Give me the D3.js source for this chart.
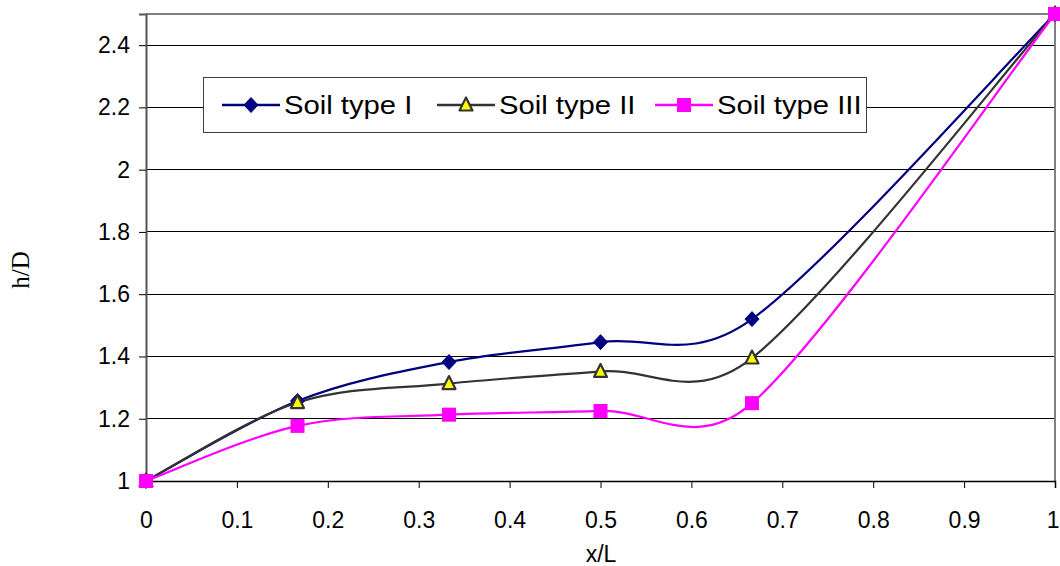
<!DOCTYPE html>
<html><head><meta charset="utf-8">
<script src="https://cdn.jsdelivr.net/npm/d3@7"></script>
<style>
html,body{margin:0;padding:0;background:#fff;}
svg{display:block;}
</style></head>
<body>
<svg id="chart" width="1060" height="566"></svg>
<script>
const xValues = [0, 1/6, 1/3, 1/2, 2/3, 1];
const soilI   = [1, 1.257, 1.382, 1.446, 1.52, 2.5];
const soilII  = [1, 1.252, 1.313, 1.352, 1.395, 2.5];
const soilIII = [1, 1.177, 1.213, 1.225, 1.25, 2.5];
const seriesNames = ["Soil type I", "Soil type II", "Soil type III"];
const xTicks = [0, 0.1, 0.2, 0.3, 0.4, 0.5, 0.6, 0.7, 0.8, 0.9, 1];
const yTicks = [1, 1.2, 1.4, 1.6, 1.8, 2, 2.2, 2.4];
const xTitle = "x/L";
const yTitle = "h/D";

const svg = d3.select("#chart");
const L = 146, R = 1055, T = 14, B = 481;
const x = d3.scaleLinear().domain([0, 1]).range([L, R]);
const y = d3.scaleLinear().domain([1, 2.5]).range([B, T]);

const series = [
  {name: seriesNames[0], vals: soilI, color: "#000080", marker: "diamond"},
  {name: seriesNames[1], vals: soilII, color: "#333333", marker: "triangle"},
  {name: seriesNames[2], vals: soilIII, color: "#ff00ff", marker: "square"}
];

// gridlines
svg.append("g").selectAll("line").data(yTicks.filter(d => d > 1)).join("line")
  .attr("x1", L).attr("x2", R).attr("y1", d => y(d)).attr("y2", d => y(d))
  .attr("stroke", "#000").attr("stroke-width", 1).attr("shape-rendering", "crispEdges");

// frame (top/right gray)
svg.append("line").attr("x1", L).attr("x2", R + 1).attr("y1", T).attr("y2", T)
  .attr("stroke", "#808080").attr("stroke-width", 2);
svg.append("line").attr("x1", R).attr("x2", R).attr("y1", T).attr("y2", B)
  .attr("stroke", "#808080").attr("stroke-width", 2);

// axes
const fontSans = "'Liberation Sans', Arial, sans-serif";
const xAxis = d3.axisBottom(x).tickValues(xTicks).tickSize(7).tickPadding(24)
  .tickFormat(d => d3.format("")(+d.toFixed(1)));
const gx = svg.append("g").attr("transform", `translate(0,${B})`).call(xAxis);
gx.select(".domain").attr("stroke", "#000").attr("stroke-width", 1.5);
gx.selectAll(".tick line").attr("stroke", "#000");
gx.selectAll("text").attr("font-family", fontSans).attr("font-size", 23).attr("fill", "#000");
gx.selectAll(".tick text").filter(d => d === 1).attr("text-anchor", "end").attr("dx", 4);

const yAxis = d3.axisLeft(y).tickValues(yTicks).tickSize(7).tickPadding(9)
  .tickFormat(d => d3.format("")(+d.toFixed(1)));
const gy = svg.append("g").attr("transform", `translate(${L},0)`).call(yAxis);
gy.select(".domain").attr("stroke", "#555").attr("stroke-width", 2);
gy.selectAll(".tick line").attr("stroke", "#000");
gy.selectAll("text").attr("font-family", fontSans).attr("font-size", 23).attr("fill", "#000");

// axis titles
svg.append("text").text(xTitle).attr("x", 601).attr("y", 562).attr("text-anchor", "middle")
  .attr("font-family", fontSans).attr("font-size", 23);
svg.append("text").text(yTitle).attr("transform", "translate(29,270) rotate(-90)")
  .attr("text-anchor", "middle").attr("font-family", "'Liberation Serif', 'Times New Roman', serif")
  .attr("font-size", 25);

// Excel-style smoothed line: Bezier with tangent (P[i+1]-P[i-1])/6,
// each control offset limited to half the segment length.
function smoothPath(pts) {
  const p = d3.path();
  const n = pts.length;
  const lim = (vx, vy, maxLen) => {
    const len = Math.hypot(vx, vy);
    if (len > maxLen && len > 0) { const k = maxLen / len; return [vx * k, vy * k]; }
    return [vx, vy];
  };
  p.moveTo(pts[0][0], pts[0][1]);
  for (let i = 0; i < n - 1; i++) {
    const p0 = pts[Math.max(i - 1, 0)], p1 = pts[i], p2 = pts[i + 1], p3 = pts[Math.min(i + 2, n - 1)];
    const seg = Math.hypot(p2[0] - p1[0], p2[1] - p1[1]);
    const a = lim((p2[0] - p0[0]) / 6, (p2[1] - p0[1]) / 6, seg / 2);
    const b = lim((p3[0] - p1[0]) / 6, (p3[1] - p1[1]) / 6, seg / 2);
    p.bezierCurveTo(p1[0] + a[0], p1[1] + a[1], p2[0] - b[0], p2[1] - b[1], p2[0], p2[1]);
  }
  return p.toString();
}
series.forEach(s => {
  const pts = xValues.map((xv, i) => [x(xv), y(s.vals[i])]);
  svg.append("path").attr("d", smoothPath(pts)).attr("fill", "none")
    .attr("stroke", s.color).attr("stroke-width", 2.2);
});

function drawMarker(g, type, cx, cy) {
  if (type === "diamond") {
    g.append("path").attr("d", `M${cx},${cy-7.5}L${cx+7},${cy}L${cx},${cy+7.5}L${cx-7},${cy}Z`)
      .attr("fill", "#000080").attr("stroke", "#000080").attr("stroke-width", 1);
  } else if (type === "triangle") {
    g.append("path").attr("d", `M${cx},${cy-7.5}L${cx+6.5},${cy+5.5}L${cx-6.5},${cy+5.5}Z`)
      .attr("fill", "#ffff00").attr("stroke", "#333333").attr("stroke-width", 2.2)
      .attr("stroke-linejoin", "round");
  } else {
    g.append("rect").attr("x", cx - 7).attr("y", cy - 7).attr("width", 14).attr("height", 14)
      .attr("fill", "#ff00ff");
  }
}
const mg = svg.append("g");
series.forEach(s => {
  xValues.forEach((xv, i) => drawMarker(mg, s.marker, x(xv), y(s.vals[i])));
});

// legend
const lg = svg.append("g");
lg.append("rect").attr("x", 203.5).attr("y", 77.5).attr("width", 663).attr("height", 55)
  .attr("fill", "#fff").attr("stroke", "#404040").attr("stroke-width", 1);
const legendPos = [222, 437, 655];
series.forEach((s, i) => {
  const lx = legendPos[i], ly = 105;
  lg.append("line").attr("x1", lx).attr("x2", lx + 58).attr("y1", ly).attr("y2", ly)
    .attr("stroke", s.color).attr("stroke-width", 2.5);
  drawMarker(lg, s.marker, lx + 29, ly);
  lg.append("text").text(s.name)
    .attr("transform", `translate(${lx + 62},${ly + 9}) scale(1.17,1)`)
    .attr("font-family", fontSans).attr("font-size", 25).attr("fill", "#000");
});
</script>
</body></html>
